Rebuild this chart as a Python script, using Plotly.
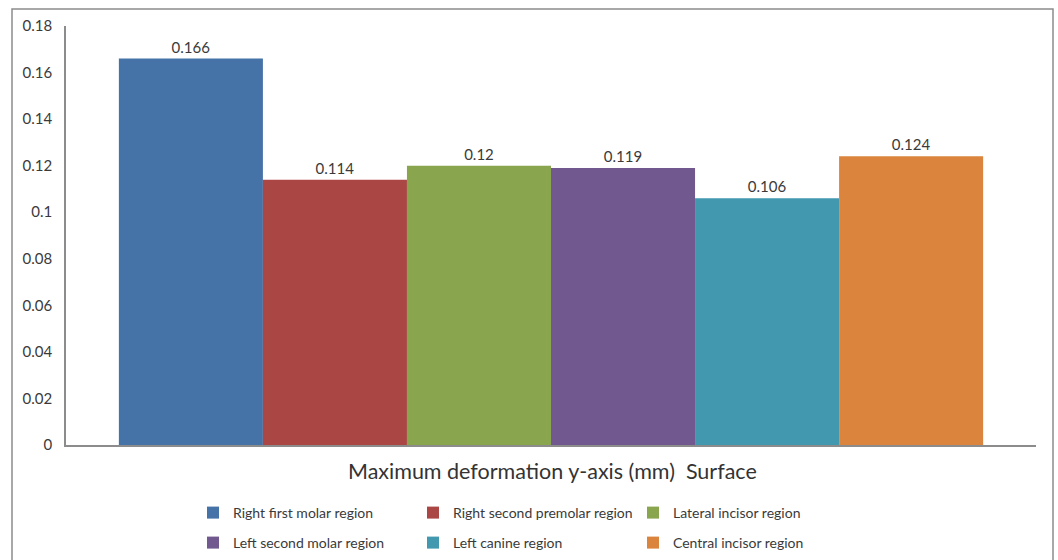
import plotly.graph_objects as go

# Deformation per region (mm)
regions = [
    "Right first molar region",
    "Right second premolar region",
    "Lateral incisor region",
    "Left second molar region",
    "Left canine region",
    "Central incisor region",
]
deformation = [0.166, 0.114, 0.12, 0.119, 0.106, 0.124]
colors = ["#4572A7", "#AA4643", "#89A54E", "#71588F", "#4198AF", "#DB843D"]
category = ["Surface"]
y_ticks = [0, 0.02, 0.04, 0.06, 0.08, 0.1, 0.12, 0.14, 0.16, 0.18]

FONT = "Lato, 'Open Sans', sans-serif"
TEXT_COLOR = "#3a3a3a"
AXIS_COLOR = "#8c8c8c"

fig = go.Figure()
for i, (name, val, col) in enumerate(zip(regions, deformation, colors)):
    fig.add_trace(go.Bar(
        x=category,
        y=[val],
        name=name,
        marker=dict(color=col, line=dict(width=0)),
        text=[str(val)],
        textposition="outside",
        textfont=dict(family=FONT, size=15, color=TEXT_COLOR),
        cliponaxis=False,
        legend="legend" if i < 3 else "legend2",
    ))

W, H = 1058, 560
L, R, T, B = 66, 22, 26, 115
pw, ph = W - L - R, H - T - B


def px_x(x):
    return (x - L) / pw


def px_y(y):
    return (H - B - y) / ph


legend_common = dict(
    orientation="h",
    xanchor="left",
    yanchor="middle",
    font=dict(family=FONT, size=14, color=TEXT_COLOR),
    entrywidth=175,
    entrywidthmode="pixels",
    itemwidth=30,
    bgcolor="rgba(0,0,0,0)",
    traceorder="normal",
)

fig.update_layout(
    width=W,
    height=H,
    margin=dict(l=L, r=R, t=T, b=B, autoexpand=False),
    paper_bgcolor="white",
    plot_bgcolor="white",
    barmode="group",
    bargap=0.109,
    bargroupgap=0,
    font=dict(family=FONT, color=TEXT_COLOR),
    xaxis=dict(
        showticklabels=False,
        showline=True,
        linecolor=AXIS_COLOR,
        linewidth=1.5,
        ticks="",
        showgrid=False,
        zeroline=False,
    ),
    yaxis=dict(
        range=[0, 0.18],
        tickvals=y_ticks,
        ticktext=[f"{v:g}" for v in y_ticks],
        showline=True,
        linecolor=AXIS_COLOR,
        linewidth=1.5,
        ticks="",
        ticklabelstandoff=9,
        showgrid=False,
        zeroline=False,
        tickfont=dict(family=FONT, size=15, color=TEXT_COLOR),
    ),
    legend=dict(x=px_x(193), y=px_y(513), **legend_common),
    legend2=dict(x=px_x(193), y=px_y(543), **legend_common),
    annotations=[
        dict(
            text="Maximum deformation y-axis (mm)\u00a0\u00a0Surface",
            xref="paper", yref="paper",
            x=px_x(552), y=px_y(471),
            xanchor="center", yanchor="middle",
            showarrow=False,
            font=dict(family=FONT, size=21.5, color="#333333"),
        )
    ],
    shapes=[
        dict(
            type="rect", xref="paper", yref="paper",
            x0=px_x(12), x1=px_x(1053), y0=px_y(9), y1=px_y(565),
            line=dict(color="#8c8c8c", width=1.5),
            fillcolor="rgba(0,0,0,0)",
            layer="below",
        )
    ],
)

fig.write_html("out.html")
